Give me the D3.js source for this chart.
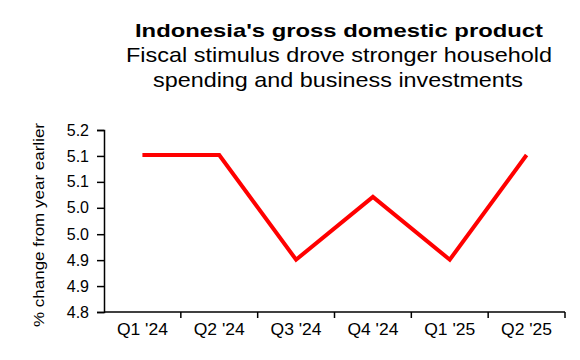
<!DOCTYPE html>
<html>
<head>
<meta charset="utf-8">
<script src="https://cdn.jsdelivr.net/npm/d3@7"></script>
<style>
  html, body { margin: 0; padding: 0; background: #fff; }
  svg { display: block; font-family: "Liberation Sans", Arial, sans-serif; }
</style>
</head>
<body>
<svg id="chart" width="580" height="360"></svg>
<script>
const categories = ["Q1 '24", "Q2 '24", "Q3 '24", "Q4 '24", "Q1 '25", "Q2 '25"];
const gdpGrowth = [5.145, 5.145, 4.915, 5.053, 4.915, 5.145];
const yTicks = [4.8, 4.857, 4.914, 4.971, 5.029, 5.086, 5.143, 5.2];
const yTickLabels = ["4.8", "4.9", "4.9", "5.0", "5.0", "5.1", "5.1", "5.2"];
const titleText = "Indonesia's gross domestic product";
const subtitleLines = ["Fiscal stimulus drove stronger household", "spending and business investments"];
const yAxisTitle = "% change from year earlier";

const svg = d3.select("#chart");
const plot = { left: 104, right: 565, top: 130, bottom: 312 };

const x = d3.scaleBand().domain(categories).range([plot.left, plot.right]).padding(0);
const y = d3.scaleLinear().domain([4.8, 5.2]).range([plot.bottom, plot.top]);

// Title
svg.append("text")
  .attr("x", 339).attr("y", 37)
  .attr("text-anchor", "middle")
  .attr("font-weight", "bold")
  .attr("font-size", 19)
  .attr("textLength", 408)
  .attr("lengthAdjust", "spacingAndGlyphs")
  .attr("fill", "#000")
  .text(titleText);

const subLens = [426, 370];
const subX = [339, 338];
subtitleLines.forEach((t, i) => {
  svg.append("text")
    .attr("x", subX[i]).attr("y", 62 + i * 25)
    .attr("text-anchor", "middle")
    .attr("font-size", 21)
    .attr("textLength", subLens[i])
    .attr("lengthAdjust", "spacingAndGlyphs")
    .attr("fill", "#000")
    .text(t);
});

// Y axis
const yAxis = d3.axisLeft(y)
  .tickValues(yTicks)
  .tickFormat((d, i) => yTickLabels[i])
  .tickSize(7)
  .tickPadding(8);

const gy = svg.append("g")
  .attr("transform", `translate(${plot.left},0)`)
  .call(yAxis);
gy.select(".domain").attr("stroke", "#000").attr("stroke-width", 1.5);
gy.selectAll(".tick line").attr("stroke", "#000").attr("stroke-width", 1.5);
gy.selectAll(".tick text").attr("font-size", 16).attr("fill", "#000")
  .attr("font-family", "'Liberation Sans', Arial, sans-serif");

// X axis
const xAxis = d3.axisBottom(x)
  .tickSize(0)
  .tickPadding(0);
const gx = svg.append("g")
  .attr("transform", `translate(0,${plot.bottom})`)
  .call(xAxis);
gx.select(".domain").remove();
gx.append("line")
  .attr("x1", plot.left).attr("x2", plot.right)
  .attr("y1", 0).attr("y2", 0)
  .attr("stroke", "#000").attr("stroke-width", 1.5);
const bounds = categories.map(c => x(c)).concat([x(categories[categories.length - 1]) + x.bandwidth()]);
gx.selectAll(".bound").data(bounds.slice(1)).enter().append("line")
  .attr("class", "bound")
  .attr("x1", d => d).attr("x2", d => d)
  .attr("y1", 0).attr("y2", 6)
  .attr("stroke", "#000").attr("stroke-width", 1.5);
gx.selectAll(".tick text")
  .attr("font-size", 16).attr("fill", "#000")
  .attr("font-family", "'Liberation Sans', Arial, sans-serif")
  .attr("dy", 0).attr("y", 23)
  .attr("textLength", 51)
  .attr("lengthAdjust", "spacingAndGlyphs");
gx.selectAll(".tick").attr("transform", d => `translate(${x(d) + x.bandwidth() / 2},0)`);

// Y axis title
svg.append("text")
  .attr("transform", `translate(44,225) rotate(-90)`)
  .attr("text-anchor", "middle")
  .attr("font-size", 15)
  .attr("textLength", 204)
  .attr("lengthAdjust", "spacingAndGlyphs")
  .attr("fill", "#000")
  .text(yAxisTitle);

// Line
const line = d3.line()
  .x((d, i) => x(categories[i]) + x.bandwidth() / 2)
  .y(d => y(d));

svg.append("path")
  .datum(gdpGrowth)
  .attr("d", line)
  .attr("fill", "none")
  .attr("stroke", "#ff0000")
  .attr("stroke-width", 4)
  .attr("stroke-linejoin", "miter");
</script>
</body>
</html>
